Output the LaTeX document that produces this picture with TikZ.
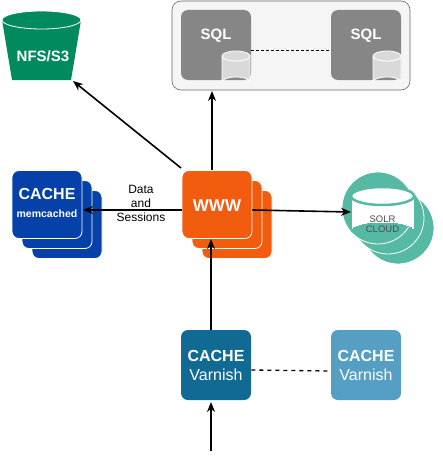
\documentclass[tikz,border=0pt]{standalone}
\usepackage{fontspec}
\setmainfont{Liberation Sans}
\usetikzlibrary{arrows.meta}
\definecolor{www}{HTML}{F25C0F}
\definecolor{mem}{HTML}{0641A9}
\definecolor{nfs}{HTML}{008A5E}
\definecolor{solr}{HTML}{56B9A3}
\definecolor{sqlg}{HTML}{868686}
\definecolor{var1}{HTML}{116A93}
\definecolor{var2}{HTML}{559FC5}
\tikzset{
 box/.style={rounded corners=7pt, minimum width=70pt, minimum height=68pt, inner sep=0pt, text=white, align=center, draw=white, line width=0.8pt},
 arr/.style={-{Stealth[length=10pt,width=8pt]}, line width=1.6pt},
 dashln/.style={dashed, line width=1pt},
 cyl/.style={fill=gray!30, draw=white, line width=0.8pt},
 big/.style={font=\bfseries\fontsize{16}{17}\selectfont, text=white}
}
\begin{document}
\begin{tikzpicture}[x=1pt,y=-1pt]
\useasboundingbox (0,0) rectangle (442,460);
% SQL container
\node[rounded corners=9pt, draw=gray!80!black, fill=gray!8, minimum width=238pt, minimum height=89pt, line width=0.6pt] (cont) at (291,45.5) {};
\node[box, fill=sqlg, draw=none, minimum height=70pt] (sql1) at (216,45) {};
\node[big, font=\bfseries\fontsize{15}{16}\selectfont] at (216,36) {SQL};
\node[box, fill=sqlg, draw=none, minimum height=70pt] (sql2) at (366,45) {};
\node[big, font=\bfseries\fontsize{15}{16}\selectfont] at (366,36) {SQL};
\draw[dashln, line width=0.7pt, dash pattern=on 3pt off 2pt] (251,50) -- (331,50);
\foreach \cx in {236,387}{
 \draw[cyl] (\cx-14,56) -- (\cx-14,82) arc[start angle=180,end angle=360,x radius=14,y radius=5] -- (\cx+14,56) arc[start angle=0,end angle=180,x radius=14,y radius=5];
 \draw[cyl] (\cx,56) ellipse[x radius=14,y radius=5];
}
% NFS bucket
\fill[nfs] (2,20) -- (12,80) -- (71,80) -- (81,20) -- cycle;
\draw[fill=nfs, draw=white, line width=0.8pt] (41.5,20) ellipse[x radius=39.5,y radius=9];
\node[big, font=\bfseries\fontsize{15}{16}\selectfont] (nfs) at (43,56) {NFS/S3};
\coordinate (nfsb) at (73,81);
% memcached stack
\node[box, fill=mem] at (67,224.5) {};
\node[box, fill=mem] at (57,214.5) {};
\node[box, fill=mem] (mem) at (47,204.5) {};
\node[big] at (47,194) {CACHE};
\node[font=\bfseries\fontsize{10.5}{11}\selectfont, text=white] at (47,214) {memcached};
% WWW stack
\node[box, fill=www] at (237,224.5) {};
\node[box, fill=www] at (227,214.5) {};
\node[box, fill=www] (www) at (217,204.5) {};
\node[big, font=\bfseries\fontsize{17}{18}\selectfont] at (217,206) {WWW};
% SOLR
\foreach \d in {20,10}{\draw[fill=solr, draw=white, line width=0.8pt] (378+\d,208+\d) circle (36);}
\draw[fill=solr, draw=white, line width=0.8pt] (378,208) circle (36);
\draw[fill=white, draw=solr, line width=0] (351,196) -- (351,231) arc[start angle=180,end angle=360,x radius=31.5,y radius=8] -- (414,196) arc[start angle=0,end angle=180,x radius=31.5,y radius=8];
\draw[fill=white, draw=solr, line width=2.5pt] (382.5,196) ellipse[x radius=31.5,y radius=9];
\node[font=\fontsize{9.5}{10}\selectfont, text=gray!60!black, align=center] (solr) at (382.5,224) {SOLR\\CLOUD};
\coordinate (solrin) at (351,212);
% Varnish
\node[box, fill=var1, draw=none, minimum height=70pt] (v1) at (216,365) {};
\node[big] at (216,356) {CACHE};
\node[font=\fontsize{16}{17}\selectfont, text=white] at (216,375) {Varnish};
\node[box, fill=var2, draw=none, minimum height=70pt] (v2) at (366,365) {};
\node[big] at (366,356) {CACHE};
\node[font=\fontsize{16}{17}\selectfont, text=white] at (366,375) {Varnish};
\draw[dashln, dash pattern=on 4pt off 4pt, line width=1.3pt] (v1.east |- 0,370) -- (v2.west |- 0,371);
\coordinate (in) at (211,451);
% label
\node[font=\fontsize{12}{14}\selectfont, align=center] at (141,203) {Data\\and\\Sessions};
% arrows
\draw[arr] (212,170) -- (212,91);
\draw[arr] (181,168) -- (nfsb);
\draw[arr] (www.west |- 0,210) -- (83,210);
\draw[arr] (www.east |- 0,210) -- (solrin);
\draw[arr] (v1.north -| 211,0) -- (211,239);
\draw[arr] (in) -- (211,402);
\end{tikzpicture}
\end{document}
